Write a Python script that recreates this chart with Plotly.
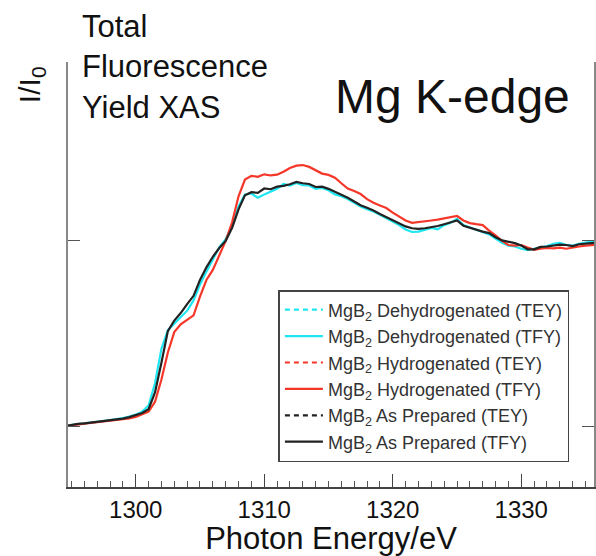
import plotly.graph_objects as go

# Photon energy grid (eV)
energy = [1294.5 + 0.5 * i for i in range(84)]

# Normalised Mg K-edge TFY spectra (pre-edge = 0, post-edge ~ 1)
as_prepared_tfy = [
    0.005, 0.012, 0.016, 0.019, 0.023, 0.026, 0.030, 0.034, 0.040, 0.045,
    0.053, 0.062, 0.075, 0.095, 0.185, 0.345, 0.515, 0.572, 0.612, 0.660,
    0.705, 0.790, 0.858, 0.915, 0.962, 1.000, 1.070, 1.170, 1.245, 1.262,
    1.258, 1.282, 1.278, 1.292, 1.296, 1.305, 1.317, 1.310, 1.306, 1.290,
    1.292, 1.280, 1.265, 1.250, 1.232, 1.212, 1.192, 1.178, 1.164, 1.145,
    1.129, 1.112, 1.097, 1.078, 1.068, 1.065, 1.068, 1.072, 1.080, 1.090,
    1.102, 1.110, 1.082, 1.070, 1.058, 1.050, 1.042, 1.020, 1.003, 0.995,
    0.988, 0.975, 0.955, 0.955, 0.968, 0.970, 0.975, 0.980, 0.978, 0.972,
    0.982, 0.986, 0.990, 0.992,
]

hydrogenated_tfy = [
    0.004, 0.010, 0.014, 0.018, 0.021, 0.025, 0.028, 0.031, 0.036, 0.040,
    0.046, 0.054, 0.066, 0.082, 0.135, 0.255, 0.400, 0.510, 0.552, 0.575,
    0.600, 0.700, 0.790, 0.844, 0.920, 1.000, 1.100, 1.240, 1.330, 1.350,
    1.345, 1.358, 1.352, 1.356, 1.372, 1.392, 1.405, 1.408, 1.398, 1.378,
    1.362, 1.355, 1.340, 1.310, 1.282, 1.268, 1.252, 1.225, 1.205, 1.190,
    1.177, 1.152, 1.129, 1.110, 1.097, 1.100, 1.105, 1.110, 1.115, 1.120,
    1.128, 1.134, 1.110, 1.096, 1.090, 1.085, 1.055, 1.030, 1.000, 0.978,
    0.975, 0.978, 0.965, 0.952, 0.958, 0.962, 0.960, 0.964, 0.958, 0.966,
    0.970, 0.975, 0.978, 0.980,
]

dehydrogenated_tfy = [
    0.006, 0.011, 0.013, 0.018, 0.022, 0.027, 0.031, 0.035, 0.041, 0.047,
    0.056, 0.066, 0.082, 0.115, 0.235, 0.420, 0.520, 0.556, 0.588, 0.625,
    0.680, 0.765, 0.835, 0.900, 0.965, 1.010, 1.080, 1.185, 1.250, 1.255,
    1.232, 1.250, 1.265, 1.280, 1.306, 1.298, 1.312, 1.300, 1.298, 1.280,
    1.285, 1.272, 1.250, 1.240, 1.225, 1.205, 1.185, 1.170, 1.158, 1.140,
    1.122, 1.105, 1.085, 1.062, 1.048, 1.050, 1.062, 1.070, 1.062, 1.085,
    1.098, 1.118, 1.085, 1.072, 1.062, 1.048, 1.035, 1.012, 0.990, 0.975,
    0.970, 0.958, 0.950, 0.958, 0.965, 0.972, 0.985, 0.990, 0.978, 0.975,
    0.985, 0.992, 0.998, 1.000,
]

# TEY channels are listed in the legend but not plotted in this TFY panel
tey_placeholder = [None]

x_ticks = [1300, 1310, 1320, 1330]
x_tick_labels = ["1300", "1310", "1320", "1330"]

CYAN = "#1fe6f0"
RED = "#f5372a"
BLACK = "#222222"
FONT = "Liberation Sans, Arial, sans-serif"
TEY_DASH = "5px,4px"

series = [
    ("MgB<sub>2</sub> Dehydrogenated (TEY)", tey_placeholder, tey_placeholder, CYAN, TEY_DASH),
    ("MgB<sub>2</sub> Dehydrogenated (TFY)", energy, dehydrogenated_tfy, CYAN, "solid"),
    ("MgB<sub>2</sub> Hydrogenated (TEY)", tey_placeholder, tey_placeholder, RED, TEY_DASH),
    ("MgB<sub>2</sub> Hydrogenated (TFY)", energy, hydrogenated_tfy, RED, "solid"),
    ("MgB<sub>2</sub> As Prepared (TEY)", tey_placeholder, tey_placeholder, BLACK, TEY_DASH),
    ("MgB<sub>2</sub> As Prepared (TFY)", energy, as_prepared_tfy, BLACK, "solid"),
]

fig = go.Figure()
for name, xs, ys, color, dash in series:
    fig.add_trace(go.Scatter(
        x=xs, y=ys, name=name, mode="lines",
        line=dict(color=color, width=2.2, dash=dash),
    ))

fig.update_layout(
    width=596, height=556,
    margin=dict(l=68, r=0, t=62, b=69),
    paper_bgcolor="white", plot_bgcolor="white",
    font=dict(family=FONT, color="#111111"),
    showlegend=True,
    legend=dict(
        x=0.40, y=0.4635, xanchor="left", yanchor="top",
        bgcolor="white", bordercolor="#444444", borderwidth=1.5,
        font=dict(size=18, color="#333333", family=FONT),
        tracegroupgap=0, traceorder="normal", itemwidth=38,
    ),
    xaxis=dict(
        range=[1294.73, 1335.66],
        tickvals=x_ticks, ticktext=x_tick_labels,
        ticks="inside", ticklen=13, tickwidth=1.2, tickcolor="#444444",
        minor=dict(dtick=1, ticks="inside", ticklen=6, tickwidth=1, tickcolor="#555555"),
        showline=True, linecolor="#444444", linewidth=1.5,
        showgrid=False, zeroline=False,
        tickfont=dict(size=24, family=FONT, color="#111111"),
        title=dict(text="Photon Energy/eV", font=dict(size=31, family=FONT, color="#111111"), standoff=8),
    ),
    yaxis=dict(
        range=[-0.323, 1.962],
        tickvals=[0, 1], showticklabels=False,
        ticks="inside", ticklen=12, tickwidth=1.2, tickcolor="#555555",
        mirror="ticks",
        showline=True, linecolor="#888888", linewidth=1.5,
        showgrid=False, zeroline=False,
    ),
    annotations=[
        dict(text="Total<br>Fluorescence<br>Yield XAS", xref="paper", yref="paper",
             x=(80 - 68) / 528, y=1 + (62 - 7) / 425, xanchor="left", yanchor="top",
             align="left", showarrow=False,
             font=dict(size=31, family=FONT, color="#111111")),
        dict(text="Mg K-edge", xref="paper", yref="paper",
             x=(334 - 68) / 528, y=1 + (62 - 68) / 425, xanchor="left", yanchor="top",
             showarrow=False, font=dict(size=48, family=FONT, color="#111111")),
        dict(text="I/I<sub>0</sub>", xref="paper", yref="paper",
             x=(32 - 68) / 528, y=1 + (62 - 85) / 425, xanchor="center", yanchor="middle",
             textangle=-90, showarrow=False,
             font=dict(size=30, family=FONT, color="#111111")),
    ],
)

fig.write_html("out.html")
